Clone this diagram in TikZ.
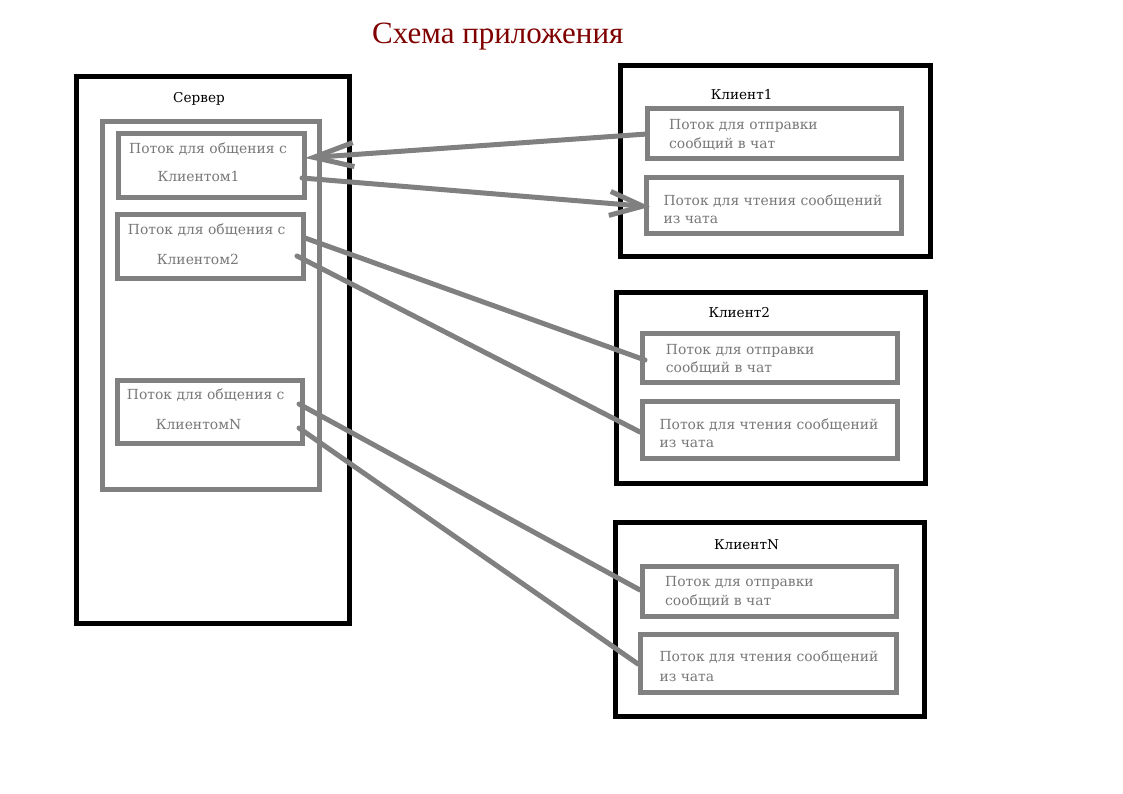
\documentclass[tikz,border=0pt]{standalone}
\usepackage{fontspec}
\setmainfont{DejaVu Serif}
\newfontfamily\titlefont{Liberation Serif}
\usetikzlibrary{calc,arrows.meta}
\definecolor{boxgray}{RGB}{128,128,128}
\definecolor{txtgray}{RGB}{120,120,120}
\definecolor{titlered}{RGB}{128,0,0}
\begin{document}
\begin{tikzpicture}[x=1pt,y=-1pt,
  blackbox/.style={draw=black,line width=5pt,inner sep=0pt,outer sep=0pt},
  graybox/.style={draw=boxgray,line width=5pt,inner sep=0pt,outer sep=0pt},
  gtext/.style={anchor=base west,inner sep=0pt,text=txtgray,font=\fontsize{13.9}{17}\selectfont},
  btext/.style={anchor=base west,inner sep=0pt,text=black,font=\fontsize{13.6}{17}\selectfont},
  conn/.style={draw=boxgray,line width=5pt,line cap=round,line join=round}]
\useasboundingbox (0,0) rectangle (1123,794);
\fill[white] (0,0) rectangle (1123,794);

% title
\node[anchor=base west,inner sep=0pt,text=titlered,font=\titlefont\fontsize{31}{36}\selectfont] (title) at (372,44) {Схема приложения};

% server
\node[blackbox,minimum width=273pt,minimum height=546.5pt] (srv) at (213,349.75) {};
\node[btext] (srvlbl) at (173,102.3) {Сервер};
\node[graybox,minimum width=216.5pt,minimum height=367pt] (pool) at (210.75,305.5) {};
\node[graybox,minimum width=185.5pt,minimum height=64pt] (s1) at (211.25,166) {};
\node[graybox,minimum width=186pt,minimum height=63pt] (s2) at (210,246.5) {};
\node[graybox,minimum width=185pt,minimum height=63.5pt] (sN) at (209.5,411.75) {};
\node[gtext] (s1a) at (129,154) {Поток для общения с};
\node[gtext] (s1b) at (157.3,181.7) {Клиентом1};
\node[gtext] (s2a) at (127.7,234) {Поток для общения с};
\node[gtext] (s2b) at (156.7,264) {Клиентом2};
\node[gtext] (sNa) at (126.7,399.3) {Поток для общения с};
\node[gtext] (sNb) at (155.7,429.3) {КлиентомN};

% client 1
\node[blackbox,minimum width=310.5pt,minimum height=190.5pt] (c1) at (775.25,161.25) {};
\node[btext] (c1lbl) at (710.7,99.3) {Клиент1};
\node[graybox,minimum width=254pt,minimum height=50pt] (c1s) at (774,134) {};
\node[graybox,minimum width=255pt,minimum height=56.5pt] (c1r) at (773.5,205.75) {};
\node[gtext] (c1sa) at (669,130) {Поток для отправки};
\node[gtext] (c1sb) at (669,148.3) {сообщий в чат};
\node[gtext] (c1ra) at (663.3,205.7) {Поток для чтения сообщений};
\node[gtext] (c1rb) at (663.3,223.3) {из чата};

% client 2
\node[blackbox,minimum width=309pt,minimum height=191pt] (c2) at (770.5,387.5) {};
\node[btext] (c2lbl) at (708.3,317.3) {Клиент2};
\node[graybox,minimum width=254.5pt,minimum height=49pt] (c2s) at (769.75,357.5) {};
\node[graybox,minimum width=255pt,minimum height=57pt] (c2r) at (769.5,429.5) {};
\node[gtext] (c2sa) at (665.7,354) {Поток для отправки};
\node[gtext] (c2sb) at (665.7,372.3) {сообщий в чат};
\node[gtext] (c2ra) at (659.3,429) {Поток для чтения сообщений};
\node[gtext] (c2rb) at (659.3,447.3) {из чата};

% client N
\node[blackbox,minimum width=309pt,minimum height=194pt] (cN) at (769.5,619) {};
\node[btext] (cNlbl) at (714,549) {КлиентN};
\node[graybox,minimum width=254pt,minimum height=50pt] (cNs) at (769,591) {};
\node[graybox,minimum width=255.5pt,minimum height=58pt] (cNr) at (768.25,663) {};
\node[gtext] (cNsa) at (665,586) {Поток для отправки};
\node[gtext] (cNsb) at (665,605) {сообщий в чат};
\node[gtext] (cNra) at (659.3,661.7) {Поток для чтения сообщений};
\node[gtext] (cNrb) at (659.3,681) {из чата};

% connectors
\draw[conn,-{Straight Barb[length=40pt,width=24pt]}] (c1s.west) -- ($(s1.east)+(1,-8)$);
\draw[conn,-{Straight Barb[length=33pt,width=24pt]}] ($(s1.east)+(-2,12)$) -- ($(c1r.west)+(4,1)$);
\draw[conn] ($(s2.east)+(2,-8.5)$) -- ($(c2s.west)+(2.5,2.5)$);
\draw[conn] ($(s2.east)+(-6,9.5)$) -- ($(c2r.west)+(-2,2.5)$);
\draw[conn] ($(sN.east)+(-3,-7.75)$) -- ($(cNs.west)+(-2,-1)$);
\draw[conn] ($(sN.east)+(-3,16.25)$) -- ($(cNr.west)+(-2.5,1)$);
\end{tikzpicture}
\end{document}
